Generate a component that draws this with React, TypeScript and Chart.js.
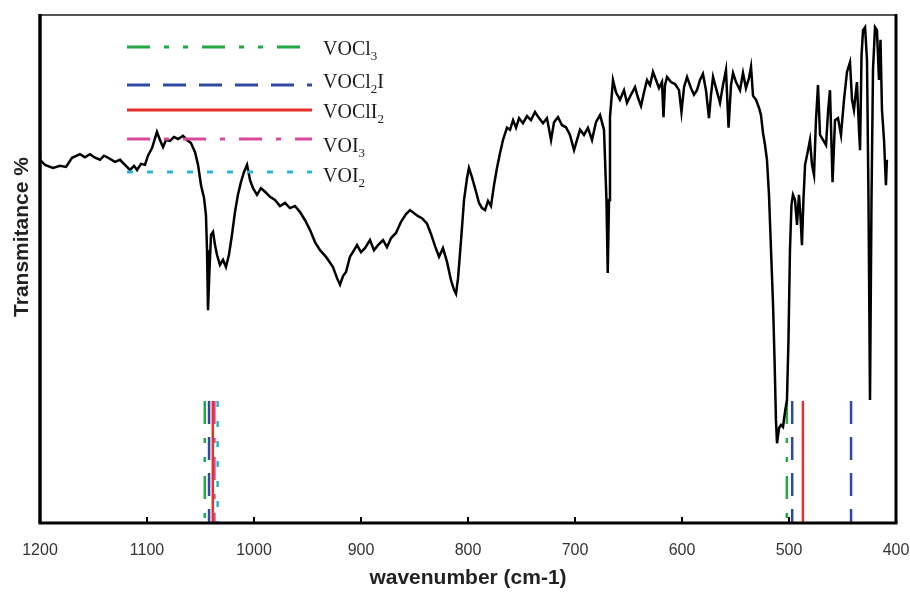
import React, { useEffect, useRef } from "react";
import { Chart, registerables } from "chart.js";

Chart.register(...registerables);

// ---------- data ----------
const wavenumbers = [
  1200, 1195.3, 1187.9, 1181.3, 1175.7, 1170.1, 1162.6, 1158.0, 1153.3, 1148.6,
  1143.9, 1140.2, 1136.4, 1129.9, 1125.2, 1120.6, 1115.9, 1112.1, 1109.3, 1105.6,
  1101.9, 1099.1, 1095.3, 1090.7, 1087.9, 1085.0, 1082.2, 1078.5, 1074.8, 1071.0,
  1066.4, 1062.6, 1058.9, 1055.1, 1052.3, 1049.5, 1046.7, 1044.9, 1043.9, 1043.0,
  1041.6, 1040.2, 1038.3, 1036.4, 1034.6, 1031.8, 1029.0, 1026.2, 1023.4, 1020.6,
  1017.8, 1015.0, 1012.2, 1009.3, 1006.5, 1003.7, 1000.9, 997.2, 993.5, 989.7,
  985.0, 980.4, 975.7, 971.0, 966.4, 961.7, 957.0, 952.3, 947.7, 943.0,
  938.3, 932.7, 926.2, 922.4, 919.6, 916.8, 914.0, 910.3, 906.5, 903.7,
  900.0, 896.3, 891.6, 887.9, 884.1, 879.4, 875.7, 871.9, 867.3, 862.6,
  857.9, 854.2, 850.5, 846.7, 843.0, 838.3, 834.6, 830.8, 827.1, 823.4,
  819.6, 815.9, 813.1, 811.2, 809.3, 806.5, 803.7, 800.9, 799.1, 796.3,
  792.5, 789.7, 786.9, 784.1, 781.3, 778.5, 775.7, 772.9, 770.1, 767.3,
  763.6, 760.7, 757.9, 755.1, 752.3, 748.6, 744.9, 741.1, 737.4, 733.6,
  729.9, 726.2, 722.4, 719.6, 715.9, 712.1, 708.4, 704.7, 700.9, 698.1,
  695.3, 691.6, 687.9, 684.1, 680.4, 676.6, 672.9, 670.6, 669.4, 668.2,
  667.3, 664.5, 661.7, 658.0, 654.2, 651.4, 647.7, 643.9, 641.1, 638.3,
  635.5, 632.7, 629.9, 627.1, 624.3, 621.5, 618.7, 617.3, 615.9, 614.0,
  610.3, 606.5, 602.8, 600.5, 598.1, 595.3, 591.6, 588.8, 586.0, 583.2,
  580.4, 577.6, 574.8, 572.9, 571.0, 568.2, 564.5, 561.7, 558.9, 556.5,
  554.2, 552.3, 549.5, 545.8, 543.0, 540.2, 537.4, 535.5, 533.6, 530.8,
  528.0, 526.2, 524.3, 522.4, 520.6, 518.7, 516.8, 514.9, 513.5, 512.2,
  511.2, 509.3, 507.5, 505.6, 503.7, 501.9, 500.5, 499.1, 497.7, 496.3,
  494.4, 492.5, 490.7, 489.3, 487.9, 486.5, 485.0, 482.2, 480.4, 478.5,
  476.6, 474.8, 472.9, 471.0, 468.2, 465.4, 463.4, 461.7, 459.3, 457.0,
  454.2, 451.4, 448.6, 445.8, 443.0, 441.1, 439.3, 436.5, 434.6, 433.6,
  432.2, 430.8, 428.9, 427.1, 425.7, 424.3, 422.9, 421.5, 419.6, 417.8,
  415.9, 414.5, 413.1, 411.2, 409.4, 408.5,
];

const transmittance = [
  71.5, 70.5, 69.9, 70.3, 70.1, 71.9, 72.6, 72.0, 72.6, 71.9,
  71.5, 72.3, 71.9, 71.1, 71.5, 70.5, 69.5, 70.3, 69.5, 70.7,
  70.5, 72.3, 73.8, 77.0, 75.4, 74.0, 75.4, 75.2, 76.0, 75.6,
  76.2, 75.4, 74.8, 73.0, 70.5, 66.5, 64.0, 60.6, 53.7, 41.9,
  49.8, 56.7, 57.3, 54.7, 52.8, 50.8, 51.8, 50.4, 52.8, 56.7,
  61.2, 64.6, 67.1, 69.1, 70.5, 67.5, 65.9, 64.6, 65.9, 65.2,
  64.2, 63.6, 62.4, 63.0, 62.0, 62.4, 61.2, 59.6, 57.7, 55.3,
  53.7, 52.4, 50.4, 48.2, 46.9, 48.6, 49.4, 52.4, 53.7, 54.7,
  53.3, 54.1, 55.7, 53.7, 54.7, 55.7, 54.3, 56.1, 57.1, 59.3,
  60.8, 61.6, 61.0, 60.4, 60.0, 58.9, 56.9, 54.5, 52.4, 54.1,
  51.4, 47.8, 45.9, 45.1, 48.2, 55.7, 63.6, 67.9, 69.9, 68.1,
  65.2, 63.0, 62.0, 61.6, 63.4, 62.4, 66.5, 69.9, 72.8, 75.4,
  77.8, 77.4, 79.3, 77.8, 79.7, 78.7, 80.1, 79.3, 80.9, 79.7,
  78.7, 79.7, 75.4, 78.9, 79.9, 78.3, 77.9, 76.4, 73.4, 75.4,
  77.4, 76.4, 77.8, 75.4, 78.9, 80.3, 77.4, 63.6, 49.2, 63.6,
  79.9, 87.2, 84.8, 83.3, 85.2, 82.7, 84.3, 85.8, 83.7, 82.1,
  84.8, 87.2, 86.2, 88.8, 87.2, 85.6, 86.8, 79.9, 86.2, 87.8,
  86.8, 86.4, 85.2, 80.9, 85.8, 87.8, 85.6, 84.3, 85.2, 87.2,
  88.4, 85.2, 79.7, 84.3, 87.8, 85.6, 82.7, 86.2, 89.2, 77.8,
  86.2, 88.6, 86.8, 85.2, 88.6, 85.6, 87.6, 89.8, 84.1, 83.3,
  81.7, 80.3, 76.8, 74.4, 71.5, 64.6, 53.7, 42.9, 32.1, 20.3,
  15.7, 18.7, 19.3, 18.9, 21.9, 24.2, 36.0, 53.7, 62.6, 64.6,
  63.6, 58.7, 64.6, 60.6, 54.7, 63.6, 70.5, 73.4, 75.4, 70.5,
  68.5, 79.3, 86.2, 76.4, 75.4, 74.4, 81.3, 85.2, 67.1, 79.3,
  79.7, 76.4, 83.3, 88.8, 90.7, 83.3, 81.3, 86.8, 77.4, 73.4,
  92.1, 97.0, 97.6, 91.1, 63.6, 24.2, 63.6, 89.2, 97.6, 97.0,
  87.2, 95.1, 81.3, 75.4, 66.5, 71.5,
];

const xTickValues = [1200, 1100, 1000, 900, 800, 700, 600, 500, 400];

// calculated band positions (cm-1) for each species
const seriesNames = ["VOCl₃", "VOCl₂I", "VOClI₂", "VOI₃", "VOI₂"];
const vocl3Bands = [1046, 502];
const vocl2iBands = [1042, 497, 442];
const vocli2Bands = [1038.5, 487];
const voi3Bands = [1037];
const voi2Bands = [1034];
const bandMarkerHeight = 24;

// ---------- helpers ----------
const bandLines = (bands: number[]) =>
  bands.flatMap((w) => [
    { x: w, y: bandMarkerHeight },
    { x: w, y: 0 },
    { x: w, y: null as any },
  ]);

const SUB: Record<string, string> = {
  "₀": "0", "₁": "1", "₂": "2", "₃": "3", "₄": "4",
  "₅": "5", "₆": "6", "₇": "7", "₈": "8", "₉": "9",
};

function drawRich(ctx: CanvasRenderingContext2D, text: string, x: number, y: number) {
  const mainFont = "20px 'Liberation Serif', 'Times New Roman', serif";
  const subFont = "13px 'Liberation Serif', 'Times New Roman', serif";
  let cx = x;
  for (const ch of Array.from(text)) {
    if (SUB[ch]) {
      ctx.font = subFont;
      ctx.fillText(SUB[ch], cx, y + 5);
      cx += ctx.measureText(SUB[ch]).width;
    } else {
      ctx.font = mainFont;
      ctx.fillText(ch, cx, y);
      cx += ctx.measureText(ch).width;
    }
  }
}

// legend rows: offsets from chart-area top (line y, text baseline)
const legendRows = [
  { line: 32, base: 40 },
  { line: 70, base: 73 },
  { line: 95, base: 103 },
  { line: 124, base: 137 },
  { line: 157, base: 167 },
];

const customPlugin = {
  id: "customDecor",
  afterDatasetsDraw(chart: any) {
    const { ctx, chartArea: a } = chart;
    ctx.save();
    // legend
    seriesNames.forEach((name, i) => {
      const ds = chart.data.datasets.find((d: any) => d.label === name);
      if (!ds) return;
      const row = legendRows[i];
      const y = a.top + row.line;
      ctx.beginPath();
      ctx.setLineDash(ds.borderDash || []);
      ctx.lineDashOffset = 0;
      ctx.strokeStyle = ds.borderColor;
      ctx.lineWidth = 3;
      ctx.lineCap = "butt";
      ctx.moveTo(a.left + 87, y);
      ctx.lineTo(a.left + 272, y);
      ctx.stroke();
      ctx.setLineDash([]);
      ctx.fillStyle = "#1a1a1a";
      ctx.textBaseline = "alphabetic";
      ctx.textAlign = "left";
      drawRich(ctx, name, a.left + 283, a.top + row.base);
    });
    // frame
    ctx.setLineDash([]);
    ctx.strokeStyle = "#555";
    ctx.lineWidth = 2;
    ctx.beginPath();
    ctx.moveTo(a.left, a.top);
    ctx.lineTo(a.right, a.top);
    ctx.stroke();
    ctx.strokeStyle = "#000";
    ctx.lineWidth = 3.5;
    ctx.beginPath();
    ctx.moveTo(a.left, a.top - 1);
    ctx.lineTo(a.left, a.bottom);
    ctx.stroke();
    ctx.lineWidth = 3;
    ctx.beginPath();
    ctx.moveTo(a.left - 1.5, a.bottom);
    ctx.lineTo(a.right + 1.5, a.bottom);
    ctx.stroke();
    ctx.beginPath();
    ctx.moveTo(a.right, a.top - 1);
    ctx.lineTo(a.right, a.bottom);
    ctx.stroke();
    // y axis title
    ctx.save();
    ctx.translate(22, 237);
    ctx.rotate(-Math.PI / 2);
    ctx.font = "bold 21px 'Liberation Sans', Arial, sans-serif";
    ctx.fillStyle = "#222";
    ctx.textAlign = "center";
    ctx.textBaseline = "middle";
    ctx.fillText("Transmitance %", 0, 0);
    ctx.restore();
    ctx.restore();
  },
};

export default function App() {
  const canvasRef = useRef<HTMLCanvasElement | null>(null);

  useEffect(() => {
    if (!canvasRef.current) return;
    const spectrum = wavenumbers.map((w, i) => ({ x: w, y: transmittance[i] }));
    const common = { showLine: true, pointRadius: 0, pointHoverRadius: 0, tension: 0, spanGaps: false, fill: false };
    const chart = new Chart(canvasRef.current, {
      type: "scatter",
      data: {
        datasets: [
          { label: "Spectrum", data: spectrum, borderColor: "#000", borderWidth: 2.5, ...common },
          { label: seriesNames[2], data: bandLines(vocli2Bands), borderColor: "#e8302a", borderWidth: 2.5, borderDash: [], ...common },
          { label: seriesNames[3], data: bandLines(voi3Bands), borderColor: "#d9489b", borderWidth: 2.5, borderDash: [23, 14, 5, 14], ...common },
          { label: seriesNames[1], data: bandLines(vocl2iBands), borderColor: "#2f4aa0", borderWidth: 2.5, borderDash: [23, 13], ...common },
          { label: seriesNames[4], data: bandLines(voi2Bands), borderColor: "#2ab5cf", borderWidth: 2.5, borderDash: [6, 14], ...common },
          { label: seriesNames[0], data: bandLines(vocl3Bands), borderColor: "#22a845", borderWidth: 2.5, borderDash: [23, 14, 5, 14, 5, 14], ...common },
        ],
      } as any,
      options: {
        animation: false,
        responsive: false,
        maintainAspectRatio: false,
        layout: { padding: { left: 40, top: 15, right: 14, bottom: 0 } },
        plugins: { legend: { display: false }, tooltip: { enabled: false } },
        scales: {
          x: {
            type: "linear",
            min: 400,
            max: 1200,
            reverse: true,
            afterBuildTicks: (s: any) => {
              s.ticks = xTickValues.map((v) => ({ value: v }));
            },
            afterFit: (s: any) => {
              s.height = 70;
              s.paddingLeft = 0;
              s.paddingRight = 0;
            },
            ticks: {
              autoSkip: false,
              maxRotation: 0,
              padding: 24,
              color: "#333",
              font: { family: "'Liberation Sans', Arial, sans-serif", size: 16 },
              callback: (v: any) => String(v),
            },
            grid: { drawOnChartArea: false, drawTicks: true, tickLength: -6, color: "#000", lineWidth: 2 },
            border: { display: false },
            title: {
              display: true,
              text: "wavenumber (cm-1)",
              color: "#222",
              font: { family: "'Liberation Sans', Arial, sans-serif", size: 21, weight: "bold" },
              padding: { top: 0, bottom: 2 },
            },
          },
          y: { display: false, min: 0, max: 100 },
        },
      } as any,
      plugins: [customPlugin],
    });
    return () => chart.destroy();
  }, []);

  return (
    <div style={{ position: "absolute", left: 0, top: 0, width: 910, height: 593, background: "#fff" }}>
      <canvas ref={canvasRef} width={910} height={593} />
    </div>
  );
}
